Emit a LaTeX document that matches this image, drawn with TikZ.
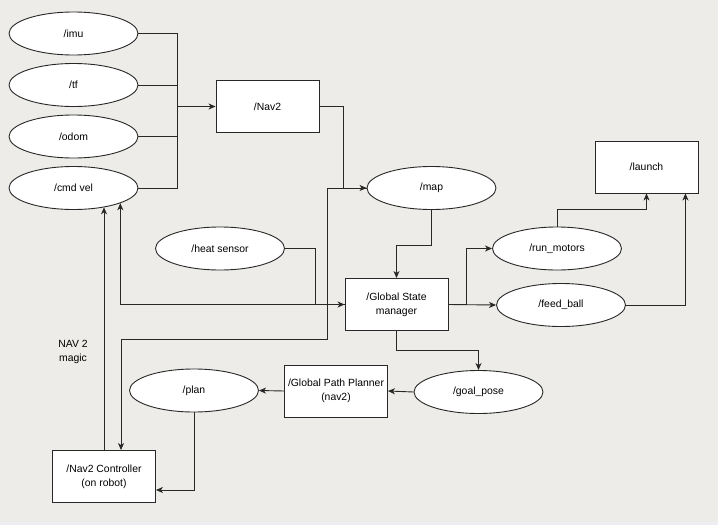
\documentclass[tikz,border=0pt]{standalone}
\usepackage{fontspec}
\setmainfont{Liberation Sans}
\usepackage{tikz}
\usetikzlibrary{shapes.geometric, arrows.meta}
\definecolor{paper}{RGB}{237,236,232}
\definecolor{strip}{RGB}{238,238,242}
\definecolor{ink}{RGB}{40,40,40}

\begin{document}
\begin{tikzpicture}[x=1pt, y=-1pt, >={Stealth[length=7pt, width=6pt, inset=2pt]}, line width=0.9pt,
		every node/.style={font=\fontsize{10.4}{14}\selectfont, align=center, text=black},
		topic/.style={ellipse, draw=ink, fill=white, minimum width=129pt, minimum height=43pt, inner sep=0pt},
		proc/.style={rectangle, draw=ink, fill=white, minimum width=103pt, minimum height=52pt, inner sep=0pt},
		wire/.style={draw=ink}]
		\fill[paper] (0,0) rectangle (718,525);
		\fill[strip] (0,522) rectangle (718,525);
		\useasboundingbox (0,0) rectangle (718,525);
		\node[topic] (imu) at (73.5,33.5) {/imu};
		\node[topic] (tf) at (73.5,85) {/tf};
		\node[topic] (odom) at (73.5,136.5) {/odom};
		\node[topic] (cmdvel) at (73.5,188) {/cmd vel};
		\node[proc] (nav2) at (267.5,106.5) {/Nav2};
		\node[topic] (map) at (431.5,188) {/map};
		\node[proc] (launch) at (646.5,167) {/launch};
		\node[topic] (heat) at (220,248.5) {/heat sensor};
		\node[topic] (runmotors) at (557,248.5) {/run\_motors};
		\node[proc] (gsm) at (396.5,304.5) {/Global State\\manager};
		\node[topic] (feedball) at (561,305) {/feed\_ball};
		\node (magic) at (73,352) {NAV 2\\magic};
		\node[topic] (plan) at (194,390.5) {/plan};
		\node[proc] (gpp) at (336,391) {/Global Path Planner\\(nav2)};
		\node[topic] (goalpose) at (478.5,392) {/goal\_pose};
		\node[proc] (ctrl) at (104,476.5) {/Nav2 Controller\\(on robot)};
		\coordinate (bus) at (177,106.5);
		\draw[wire] (imu.east) -| (bus);
		\draw[wire] (tf.east) -| (bus);
		\draw[wire] (odom.east) -| (bus);
		\draw[wire] (cmdvel.east) -| (bus);
		\draw[wire, ->] (bus) -- (nav2.west);
		\draw[wire, ->] (nav2.east) -- ++(24,0) |- (map.west);
		\draw[wire, ->] (map.west) -- ++(-39,0) |- (121,339) -- ([xshift=17pt]ctrl.north);
		\draw[wire, ->] (map.south) -- ++(0,35) -| (gsm.north);
		\draw[wire, ->] (heat.east) -- ++(30,0) |- (gsm.west);
		\draw[wire, ->] (gsm.west) -| (cmdvel.-18);
		\draw[wire, ->] (ctrl.north) -- (ctrl.north |- cmdvel.-32);
		\draw[wire, ->] (gsm.east) -- ++(18,0) |- (runmotors.west);
		\draw[wire, ->] (gsm.east) -- (feedball.west);
		\draw[wire, ->] (runmotors.north) -- ++(0,-17) -| (launch.south);
		\draw[wire, ->] (feedball.east) -| ([xshift=-13pt]launch.south east);
		\draw[wire, ->] (gsm.south) -- ++(0,19) -| (goalpose.north);
		\draw[wire, ->] (goalpose.west) -- (gpp.east);
		\draw[wire, ->] (gpp.west) -- (plan.east);
		\draw[wire, ->] (plan.south) |- ([yshift=-13.5pt]ctrl.east);
		\end{tikzpicture}
\end{document}
